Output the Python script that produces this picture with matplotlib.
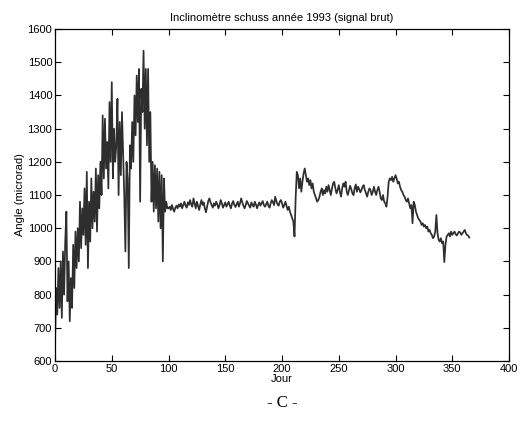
import matplotlib
matplotlib.use("Agg")
import matplotlib.pyplot as plt
import numpy as np

# daily raw inclinometer signal (microrad)
angle = [
    650, 820, 740, 880, 760, 900, 730, 930, 800, 960,
    1050, 780, 900, 720, 850, 760, 950, 820, 990, 880,
    1000, 900, 1080, 940, 1060, 980, 1120, 950, 1170, 880,
    1080, 960, 1150, 1000, 1110, 1020, 1180, 990, 1160, 1060,
    1200, 1100, 1340, 1150, 1330, 1180, 1260, 1120, 1380, 1200,
    1440, 1150, 1300, 1200, 1250, 1390, 1100, 1320, 1160, 1350,
    1230, 1100, 930, 1200, 1150, 880, 1250, 1180, 1320, 1200,
    1400, 1280, 1460, 1320, 1480, 1080, 1420, 1350, 1535, 1300,
    1480, 1250, 1480, 1200, 1350, 1080, 1200, 1050, 1190, 1060,
    1180, 1020, 1170, 1000, 1160, 900, 1150, 1050, 1080, 1060,
    1060, 1065, 1055, 1070, 1058, 1050, 1062, 1068, 1060, 1072,
    1065, 1075, 1060, 1070, 1080, 1068, 1062, 1078, 1070, 1085,
    1072, 1065, 1090, 1075, 1060, 1080, 1068, 1055, 1072, 1085,
    1070, 1078, 1060, 1048, 1065, 1082, 1090, 1078, 1070, 1062,
    1075, 1068, 1080, 1072, 1060, 1070, 1085, 1075, 1062, 1070,
    1078, 1065, 1072, 1080, 1068, 1060, 1075, 1082, 1070, 1064,
    1072, 1080, 1065, 1075, 1090, 1078, 1068, 1060, 1070, 1082,
    1075, 1068, 1062, 1078, 1070, 1065, 1080, 1072, 1060, 1070,
    1078, 1068, 1075, 1082, 1070, 1065, 1072, 1080, 1068, 1062,
    1075, 1085, 1078, 1070, 1095, 1082, 1072, 1068, 1080, 1085,
    1075, 1062, 1070, 1080, 1068, 1055, 1065, 1050, 1040, 1030,
    1020, 975, 1090, 1170, 1160, 1120, 1150, 1110, 1140, 1165,
    1180, 1160, 1140, 1150, 1130, 1145, 1120, 1135, 1110, 1100,
    1090, 1080, 1085, 1095, 1110, 1120, 1100, 1115, 1105, 1125,
    1110, 1130, 1115, 1100, 1120, 1135, 1140, 1120, 1105, 1115,
    1130, 1110, 1095, 1120, 1135, 1125, 1140, 1110, 1100, 1115,
    1128, 1118, 1105, 1100, 1120, 1132, 1110, 1125, 1118, 1108,
    1115, 1125, 1130, 1115, 1105, 1095, 1110, 1120, 1115, 1100,
    1110, 1125, 1110, 1100, 1115, 1125, 1110, 1090, 1085, 1100,
    1080, 1075, 1065, 1095, 1140, 1150, 1145, 1155, 1140, 1150,
    1160, 1150, 1135, 1140, 1125, 1115, 1110, 1100, 1095, 1085,
    1080, 1090, 1075, 1060, 1070, 1015, 1080, 1070, 1050, 1040,
    1030, 1025, 1020, 1010, 1015, 1005, 1010, 1000, 1005, 990,
    995, 985, 980, 970, 975, 990, 1040, 985, 965, 960,
    970, 955, 960, 898, 950, 975, 980, 985, 975, 990,
    980, 985, 990, 982, 978, 985, 990, 987, 980, 985,
    990, 995, 985, 980, 978, 972,
]
jour = np.arange(len(angle))

plt.rcParams['font.family'] = ['Liberation Sans', 'DejaVu Sans']

fig = plt.figure(figsize=(5.21, 4.28), dpi=100)
ax = fig.add_axes([0.1056, 0.1565, 0.8714, 0.7755])

ax.plot(jour, angle, color='#2e2e2e', linewidth=1.25)

ax.set_xlim(0, 400)
ax.set_ylim(600, 1600)
ax.set_xticks(range(0, 401, 50))
ax.set_yticks(range(600, 1601, 100))
ax.tick_params(direction='in', top=True, right=True, labelsize=8, length=4, pad=2)
for s in ax.spines.values():
    s.set_linewidth(0.9)

ax.set_title("Inclinomètre schuss année 1993 (signal brut)", fontsize=8, pad=6)
ax.set_xlabel("Jour", fontsize=8, labelpad=0)
ax.set_ylabel("Angle (microrad)", fontsize=8, labelpad=2)

fig.text(0.541, 0.058, "- C -", fontsize=12, family='Liberation Serif', ha='center', va='center')

fig.savefig("out.png", dpi=100)
